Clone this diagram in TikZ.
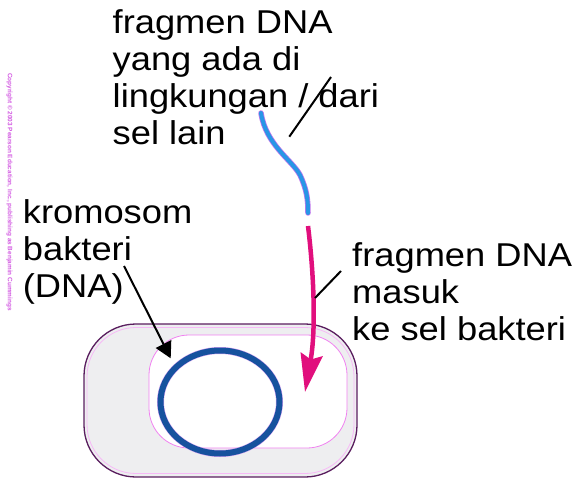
\documentclass[tikz,border=0pt]{standalone}
\usepackage{fontspec}
\newfontfamily\labelfont{Liberation Sans}[FakeStretch=1.1]
\newfontfamily\notefont{Liberation Sans}
\usetikzlibrary{arrows.meta}
\definecolor{cellline}{RGB}{90,30,95}
\definecolor{cellfill}{RGB}{238,238,240}
\definecolor{membrane}{RGB}{240,130,240}
\definecolor{chromo}{RGB}{22,82,158}
\definecolor{fragblue}{RGB}{40,150,230}
\definecolor{fragpink}{RGB}{225,15,125}
\definecolor{halo}{RGB}{190,120,235}
\definecolor{notecol}{RGB}{210,90,225}
\begin{document}
\begin{tikzpicture}[x=1pt,y=-1pt,
  % anchored at the baseline of the last line
  lbl/.style={font=\labelfont\fontsize{33}{37}\selectfont, align=left, anchor=base west, inner sep=0pt},
  leader/.style={draw=black, line width=2pt},
  fragment/.style={line width=4pt, line cap=round},
  fraghalo/.style={draw=halo, line width=5.5pt, line cap=round}
]
\useasboundingbox (0,0) rectangle (578,481);

% bacterial cell: wall, faint inner rim, membrane
\path[draw=cellline, fill=cellfill, line width=1.3pt, rounded corners=52pt]
  (84,324) rectangle (357,477);
\draw[membrane!55, line width=0.8pt, rounded corners=49pt]
  (87,327.5) rectangle (354,473.5);
\draw[membrane, fill=white, line width=0.8pt, rounded corners=40pt]
  (149,335) rectangle (347,448);

% circular bacterial chromosome
\draw[halo!70, line width=7pt] (220,402) ellipse [x radius=59.5, y radius=51.5];
\draw[chromo, line width=6pt] (220,402) ellipse [x radius=59.5, y radius=51.5];

% DNA fragment outside the cell
\coordinate (fragtop) at (261,113);
\coordinate (fragmid) at (300,175);
\coordinate (fragend) at (308,213);
\draw[fraghalo] (fragtop) .. controls (266,145) and (292,160) .. (fragmid)
  .. controls (307,190) and (308,200) .. (fragend);
\draw[fragment, fragblue] (fragtop) .. controls (266,145) and (292,160) .. (fragmid)
  .. controls (307,190) and (308,200) .. (fragend);

% fragment entering the cell
\coordinate (entrystart) at (308,226);
\coordinate (entrytip) at (305,392);
\draw[fragpink, line width=4.5pt, -{Stealth[length=38pt, width=22pt, inset=5pt]}]
  (entrystart) .. controls (314,275) and (316,330) .. (entrytip);

% labels
\node[lbl] (envtext) at (112.5,144.5) {fragmen DNA\\yang ada di\\lingkungan / dari\\sel lain};
\node[lbl] (chromtext) at (22.7,297) {kromosom\\bakteri\\(DNA)};
\node[lbl] (entrytext) at (352,340) {fragmen DNA\\masuk\\ke sel bakteri};

% leader lines
\coordinate (envfoot) at (289.3,136.7);
\coordinate (envhead) at (331,77);
\draw[leader] (envfoot) -- (envhead);

\coordinate (chromfoot) at (124,266);
\coordinate (chromtip) at (170.7,358.3);
\draw[leader, -{Triangle[length=16pt, width=17pt]}] (chromfoot) -- (chromtip);

\coordinate (entryfoot) at (315,298);
\coordinate (entryhead) at (341,271);
\draw[leader] (entryfoot) -- (entryhead);

% publisher note along the left edge
\node[rotate=-90, text=notecol, inner sep=0pt,
  font=\notefont\bfseries\fontsize{6.4}{7}\selectfont] (credit) at (9.5,192)
  {Copyright \textcopyright{} 2003 Pearson Education, Inc., publishing as Benjamin Cummings};
\end{tikzpicture}
\end{document}
